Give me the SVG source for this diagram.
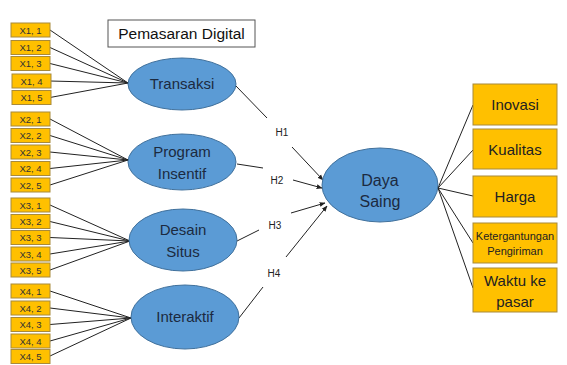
<svg xmlns="http://www.w3.org/2000/svg" width="567" height="365" viewBox="0 0 567 365">
<style>
.ind{fill:#FFC000;stroke:#A88A3A;stroke-width:1}
.it{font-family:"Liberation Sans",Arial,sans-serif;font-size:9.5px;fill:#333;text-anchor:middle}
.ell{fill:#5B9BD5;stroke:#41719C;stroke-width:1}
.et{font-family:"Liberation Sans",Arial,sans-serif;font-size:15px;fill:#1B2A40;text-anchor:middle}
.big{font-size:16px}
.rb{fill:#FFC000;stroke:#A88A3A;stroke-width:1}
.rt{font-family:"Liberation Sans",Arial,sans-serif;font-size:15px;fill:#222;text-anchor:middle}
.sm{font-size:11px}
.ln{stroke:#222;stroke-width:1;fill:none}
.h{font-family:"Liberation Sans",Arial,sans-serif;font-size:10px;fill:#222;text-anchor:middle}
</style>
<defs>
<marker id="ar" viewBox="0 0 10 10" refX="9" refY="5" markerWidth="6" markerHeight="6" orient="auto">
<path d="M0,1 L10,5 L0,9 z" fill="#222"/>
</marker>
</defs>
<rect width="567" height="365" fill="#fff"/>

<g id="connectors">
<line class="ln" x1="50" y1="30" x2="128" y2="83"/>
<line class="ln" x1="50" y1="47.5" x2="128" y2="83"/>
<line class="ln" x1="50" y1="63.5" x2="128" y2="83"/>
<line class="ln" x1="50" y1="81" x2="128" y2="83"/>
<line class="ln" x1="50" y1="97.5" x2="128" y2="83"/>
<line class="ln" x1="50" y1="119" x2="128" y2="160"/>
<line class="ln" x1="50" y1="135.5" x2="128" y2="160"/>
<line class="ln" x1="50" y1="152" x2="128" y2="160"/>
<line class="ln" x1="50" y1="168.5" x2="128" y2="160"/>
<line class="ln" x1="50" y1="185" x2="128" y2="160"/>
<line class="ln" x1="50" y1="205" x2="130" y2="241"/>
<line class="ln" x1="50" y1="221.5" x2="130" y2="241"/>
<line class="ln" x1="50" y1="237.5" x2="130" y2="241"/>
<line class="ln" x1="50" y1="254" x2="130" y2="241"/>
<line class="ln" x1="50" y1="270" x2="130" y2="241"/>
<line class="ln" x1="50" y1="291" x2="131" y2="318"/>
<line class="ln" x1="50" y1="308" x2="131" y2="318"/>
<line class="ln" x1="50" y1="324.5" x2="131" y2="318"/>
<line class="ln" x1="50" y1="341" x2="131" y2="318"/>
<line class="ln" x1="50" y1="356" x2="131" y2="318"/>
<line class="ln" x1="236" y1="86" x2="267" y2="118"/>
<line class="ln" x1="292" y1="147" x2="323" y2="180" marker-end="url(#ar)"/>
<line class="ln" x1="237" y1="164" x2="263" y2="168"/>
<line class="ln" x1="293" y1="180" x2="322" y2="188" marker-end="url(#ar)"/>
<line class="ln" x1="237" y1="241" x2="259" y2="230"/>
<line class="ln" x1="291" y1="213" x2="325" y2="203" marker-end="url(#ar)"/>
<line class="ln" x1="239" y1="318" x2="263" y2="287"/>
<line class="ln" x1="286" y1="257" x2="327" y2="206" marker-end="url(#ar)"/>
<line class="ln" x1="438" y1="188" x2="473" y2="105"/>
<line class="ln" x1="438" y1="188" x2="473" y2="150"/>
<line class="ln" x1="438" y1="188" x2="473" y2="196"/>
<line class="ln" x1="438" y1="188" x2="473" y2="243"/>
<line class="ln" x1="438" y1="188" x2="473" y2="288"/>
<text class="h" x="282" y="136">H1</text>
<text class="h" x="277" y="184">H2</text>
<text class="h" x="275" y="229">H3</text>
<text class="h" x="274" y="277">H4</text>
</g>

<g id="title">
<rect x="108" y="20" width="147" height="27" fill="#fff" stroke="#555" stroke-width="1"/>
<text x="181.5" y="39" font-family="Liberation Sans, Arial, sans-serif" font-size="15.5" fill="#111" text-anchor="middle">Pemasaran Digital</text>
</g>

<g id="x1">
<rect class="ind" x="11" y="23" width="39" height="14"/><text class="it" x="30.5" y="33.5">X1, 1</text>
<rect class="ind" x="11" y="40.5" width="39" height="14"/><text class="it" x="30.5" y="51">X1, 2</text>
<rect class="ind" x="11" y="56.5" width="39" height="14"/><text class="it" x="30.5" y="67">X1, 3</text>
<rect class="ind" x="12" y="74" width="39" height="14"/><text class="it" x="31.5" y="84.5">X1, 4</text>
<rect class="ind" x="12" y="90.5" width="39" height="14"/><text class="it" x="31.5" y="101">X1, 5</text>
</g>
<g id="x2">
<rect class="ind" x="11" y="112" width="39" height="14"/><text class="it" x="30.5" y="122.5">X2, 1</text>
<rect class="ind" x="11" y="128.5" width="39" height="14"/><text class="it" x="30.5" y="139">X2, 2</text>
<rect class="ind" x="11" y="145" width="39" height="14"/><text class="it" x="30.5" y="155.5">X2, 3</text>
<rect class="ind" x="11" y="161.5" width="39" height="14"/><text class="it" x="30.5" y="172">X2, 4</text>
<rect class="ind" x="11" y="178" width="39" height="14"/><text class="it" x="30.5" y="188.5">X2, 5</text>
</g>
<g id="x3">
<rect class="ind" x="11" y="198" width="39" height="14"/><text class="it" x="30.5" y="208.5">X3, 1</text>
<rect class="ind" x="11" y="214.5" width="39" height="14"/><text class="it" x="30.5" y="225">X3, 2</text>
<rect class="ind" x="11" y="230.5" width="39" height="14"/><text class="it" x="30.5" y="241">X3, 3</text>
<rect class="ind" x="11" y="247" width="39" height="14"/><text class="it" x="30.5" y="257.5">X3, 4</text>
<rect class="ind" x="11" y="263" width="39" height="14"/><text class="it" x="30.5" y="273.5">X3, 5</text>
</g>
<g id="x4">
<rect class="ind" x="11" y="284" width="39" height="14"/><text class="it" x="30.5" y="294.5">X4, 1</text>
<rect class="ind" x="11" y="301" width="39" height="14"/><text class="it" x="30.5" y="311.5">X4, 2</text>
<rect class="ind" x="11" y="317.5" width="39" height="14"/><text class="it" x="30.5" y="328">X4, 3</text>
<rect class="ind" x="11" y="334" width="39" height="14"/><text class="it" x="30.5" y="344.5">X4, 4</text>
<rect class="ind" x="11" y="349.5" width="39" height="14"/><text class="it" x="30.5" y="360">X4, 5</text>
</g>

<g id="transaksi">
<ellipse class="ell" cx="182" cy="84" rx="54" ry="26"/>
<text class="et" x="182" y="89">Transaksi</text>
</g>
<g id="program-insentif">
<ellipse class="ell" cx="182" cy="162" rx="54" ry="28"/>
<text class="et" x="182" y="157">Program</text>
<text class="et" x="182" y="179">Insentif</text>
</g>
<g id="desain-situs">
<ellipse class="ell" cx="183" cy="240" rx="54" ry="31"/>
<text class="et" x="183" y="235">Desain</text>
<text class="et" x="183" y="257">Situs</text>
</g>
<g id="interaktif">
<ellipse class="ell" cx="185" cy="317" rx="54" ry="32"/>
<text class="et" x="185" y="322">Interaktif</text>
</g>
<g id="daya-saing">
<ellipse class="ell" cx="380" cy="185" rx="58" ry="37"/>
<text class="et big" x="380" y="186">Daya</text>
<text class="et big" x="380" y="207">Saing</text>
</g>

<g id="inovasi">
<rect class="rb" x="473" y="84" width="84" height="41"/>
<text class="rt" x="515" y="110">Inovasi</text>
</g>
<g id="kualitas">
<rect class="rb" x="473" y="129" width="84" height="40"/>
<text class="rt" x="515" y="155">Kualitas</text>
</g>
<g id="harga">
<rect class="rb" x="473" y="176" width="84" height="41"/>
<text class="rt" x="515" y="202">Harga</text>
</g>
<g id="ketergantungan">
<rect class="rb" x="473" y="223" width="84" height="40"/>
<text class="rt sm" x="515" y="240">Ketergantungan</text>
<text class="rt sm" x="515" y="255">Pengiriman</text>
</g>
<g id="waktu">
<rect class="rb" x="473" y="268" width="84" height="44"/>
<text class="rt" x="515" y="286">Waktu ke</text>
<text class="rt" x="515" y="307">pasar</text>
</g>
</svg>
